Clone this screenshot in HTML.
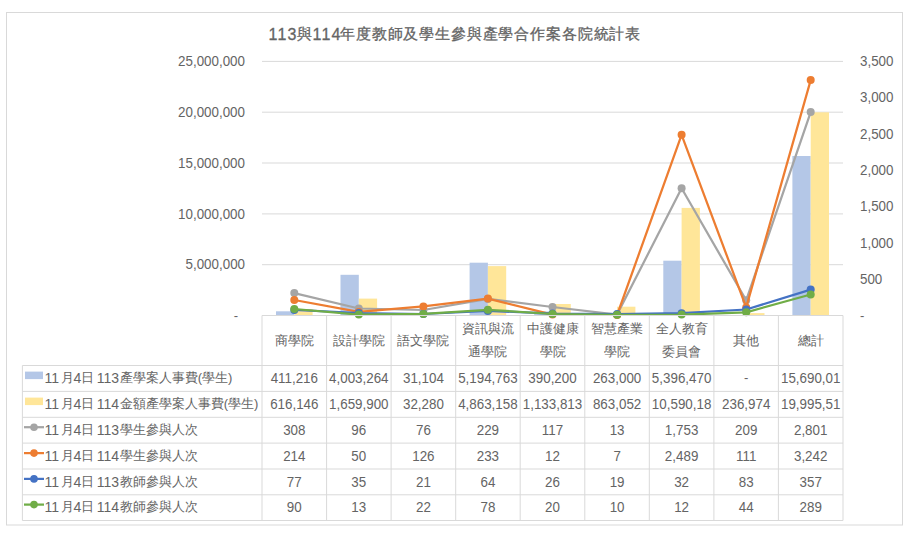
<!DOCTYPE html>
<html><head><meta charset="utf-8"><style>
html,body{margin:0;padding:0;background:#fff;width:911px;height:535px;overflow:hidden}
svg text{font-family:"Liberation Sans",sans-serif}
</style></head><body>
<svg width="911" height="535" viewBox="0 0 911 535" style="display:block"><rect x="6.5" y="12.5" width="896" height="512.5" fill="#fff" stroke="#d9d9d9" stroke-width="1"/><g fill="#646464"><text x="268.5" y="40.2" font-size="16" letter-spacing="1.2" stroke="#646464" stroke-width="0.3">113</text><text x="297" y="39.1" font-size="14.5" stroke="#646464" stroke-width="0.3">與</text><text x="312.6" y="40.2" font-size="16" letter-spacing="1.2" stroke="#646464" stroke-width="0.3">114</text><text x="340" y="39.1" font-size="14.5" letter-spacing="0.85" stroke="#646464" stroke-width="0.3">年度教師及學生參與產學合作案各院統計表</text><line x1="262.0" x2="843.0" y1="264.7" y2="264.7" stroke="#d9d9d9" stroke-width="1"/><line x1="262.0" x2="843.0" y1="213.9" y2="213.9" stroke="#d9d9d9" stroke-width="1"/><line x1="262.0" x2="843.0" y1="163.0" y2="163.0" stroke="#d9d9d9" stroke-width="1"/><line x1="262.0" x2="843.0" y1="112.2" y2="112.2" stroke="#d9d9d9" stroke-width="1"/><line x1="262.0" x2="843.0" y1="61.4" y2="61.4" stroke="#d9d9d9" stroke-width="1"/><text x="238" y="319.5" text-anchor="end" font-size="13">-</text><text transform="translate(245.0,269.3) scale(1.03,1.18)" text-anchor="end" font-size="13">5,000,000</text><text transform="translate(245.0,218.5) scale(1.03,1.18)" text-anchor="end" font-size="13">10,000,000</text><text transform="translate(245.0,167.6) scale(1.03,1.18)" text-anchor="end" font-size="13">15,000,000</text><text transform="translate(245.0,116.8) scale(1.03,1.18)" text-anchor="end" font-size="13">20,000,000</text><text transform="translate(245.0,66.0) scale(1.03,1.18)" text-anchor="end" font-size="13">25,000,000</text><text x="860" y="319.5" font-size="13">-</text><text transform="translate(860.0,283.8) scale(1.03,1.18)" text-anchor="start" font-size="13">500</text><text transform="translate(860.0,247.5) scale(1.03,1.18)" text-anchor="start" font-size="13">1,000</text><text transform="translate(860.0,211.2) scale(1.03,1.18)" text-anchor="start" font-size="13">1,500</text><text transform="translate(860.0,174.9) scale(1.03,1.18)" text-anchor="start" font-size="13">2,000</text><text transform="translate(860.0,138.6) scale(1.03,1.18)" text-anchor="start" font-size="13">2,500</text><text transform="translate(860.0,102.3) scale(1.03,1.18)" text-anchor="start" font-size="13">3,000</text><text transform="translate(860.0,66.0) scale(1.03,1.18)" text-anchor="start" font-size="13">3,500</text></g><rect x="276.0" y="311.3" width="18.3" height="4.2" fill="#b4c7e7"/><rect x="294.3" y="309.2" width="18.3" height="6.3" fill="#ffe699"/><rect x="340.5" y="274.8" width="18.3" height="40.7" fill="#b4c7e7"/><rect x="358.8" y="298.6" width="18.3" height="16.9" fill="#ffe699"/><rect x="405.1" y="315.2" width="18.3" height="0.3" fill="#b4c7e7"/><rect x="423.4" y="315.2" width="18.3" height="0.3" fill="#ffe699"/><rect x="469.6" y="262.7" width="18.3" height="52.8" fill="#b4c7e7"/><rect x="487.9" y="266.1" width="18.3" height="49.4" fill="#ffe699"/><rect x="534.2" y="311.5" width="18.3" height="4.0" fill="#b4c7e7"/><rect x="552.5" y="304.0" width="18.3" height="11.5" fill="#ffe699"/><rect x="598.8" y="312.8" width="18.3" height="2.7" fill="#b4c7e7"/><rect x="617.1" y="306.7" width="18.3" height="8.8" fill="#ffe699"/><rect x="663.3" y="260.7" width="18.3" height="54.8" fill="#b4c7e7"/><rect x="681.6" y="207.9" width="18.3" height="107.6" fill="#ffe699"/><rect x="746.2" y="313.1" width="18.3" height="2.4" fill="#ffe699"/><rect x="792.4" y="156.0" width="18.3" height="159.5" fill="#b4c7e7"/><rect x="810.7" y="112.3" width="18.3" height="203.2" fill="#ffe699"/><polyline points="294.3,293.1 358.8,308.5 423.4,310.0 487.9,298.9 552.5,307.0 617.1,314.6 681.6,188.2 746.2,300.3 810.7,112.1" fill="none" stroke="#a5a5a5" stroke-width="2.25" stroke-linejoin="round"/><circle cx="294.3" cy="293.1" r="4" fill="#a5a5a5"/><circle cx="358.8" cy="308.5" r="4" fill="#a5a5a5"/><circle cx="423.4" cy="310.0" r="4" fill="#a5a5a5"/><circle cx="487.9" cy="298.9" r="4" fill="#a5a5a5"/><circle cx="552.5" cy="307.0" r="4" fill="#a5a5a5"/><circle cx="617.1" cy="314.6" r="4" fill="#a5a5a5"/><circle cx="681.6" cy="188.2" r="4" fill="#a5a5a5"/><circle cx="746.2" cy="300.3" r="4" fill="#a5a5a5"/><circle cx="810.7" cy="112.1" r="4" fill="#a5a5a5"/><polyline points="294.3,300.0 358.8,311.9 423.4,306.4 487.9,298.6 552.5,314.6 617.1,315.0 681.6,134.8 746.2,307.4 810.7,80.1" fill="none" stroke="#ed7d31" stroke-width="2.25" stroke-linejoin="round"/><circle cx="294.3" cy="300.0" r="4" fill="#ed7d31"/><circle cx="358.8" cy="311.9" r="4" fill="#ed7d31"/><circle cx="423.4" cy="306.4" r="4" fill="#ed7d31"/><circle cx="487.9" cy="298.6" r="4" fill="#ed7d31"/><circle cx="552.5" cy="314.6" r="4" fill="#ed7d31"/><circle cx="617.1" cy="315.0" r="4" fill="#ed7d31"/><circle cx="681.6" cy="134.8" r="4" fill="#ed7d31"/><circle cx="746.2" cy="307.4" r="4" fill="#ed7d31"/><circle cx="810.7" cy="80.1" r="4" fill="#ed7d31"/><polyline points="294.3,309.9 358.8,313.0 423.4,314.0 487.9,310.9 552.5,313.6 617.1,314.1 681.6,313.2 746.2,309.5 810.7,289.6" fill="none" stroke="#4472c4" stroke-width="2.25" stroke-linejoin="round"/><circle cx="294.3" cy="309.9" r="4" fill="#4472c4"/><circle cx="358.8" cy="313.0" r="4" fill="#4472c4"/><circle cx="423.4" cy="314.0" r="4" fill="#4472c4"/><circle cx="487.9" cy="310.9" r="4" fill="#4472c4"/><circle cx="552.5" cy="313.6" r="4" fill="#4472c4"/><circle cx="617.1" cy="314.1" r="4" fill="#4472c4"/><circle cx="681.6" cy="313.2" r="4" fill="#4472c4"/><circle cx="746.2" cy="309.5" r="4" fill="#4472c4"/><circle cx="810.7" cy="289.6" r="4" fill="#4472c4"/><polyline points="294.3,309.0 358.8,314.6 423.4,313.9 487.9,309.8 552.5,314.0 617.1,314.8 681.6,314.6 746.2,312.3 810.7,294.5" fill="none" stroke="#70ad47" stroke-width="2.25" stroke-linejoin="round"/><circle cx="294.3" cy="309.0" r="4" fill="#70ad47"/><circle cx="358.8" cy="314.6" r="4" fill="#70ad47"/><circle cx="423.4" cy="313.9" r="4" fill="#70ad47"/><circle cx="487.9" cy="309.8" r="4" fill="#70ad47"/><circle cx="552.5" cy="314.0" r="4" fill="#70ad47"/><circle cx="617.1" cy="314.8" r="4" fill="#70ad47"/><circle cx="681.6" cy="314.6" r="4" fill="#70ad47"/><circle cx="746.2" cy="312.3" r="4" fill="#70ad47"/><circle cx="810.7" cy="294.5" r="4" fill="#70ad47"/><line x1="262.0" x2="843.0" y1="315.5" y2="315.5" stroke="#d9d9d9" stroke-width="1"/><line x1="22.4" x2="843.0" y1="365.5" y2="365.5" stroke="#d9d9d9" stroke-width="1"/><line x1="22.4" x2="843.0" y1="391.4" y2="391.4" stroke="#d9d9d9" stroke-width="1"/><line x1="22.4" x2="843.0" y1="417.3" y2="417.3" stroke="#d9d9d9" stroke-width="1"/><line x1="22.4" x2="843.0" y1="443.1" y2="443.1" stroke="#d9d9d9" stroke-width="1"/><line x1="22.4" x2="843.0" y1="469.0" y2="469.0" stroke="#d9d9d9" stroke-width="1"/><line x1="22.4" x2="843.0" y1="494.8" y2="494.8" stroke="#d9d9d9" stroke-width="1"/><line x1="22.4" x2="843.0" y1="520.5" y2="520.5" stroke="#d9d9d9" stroke-width="1"/><line x1="262.0" x2="262.0" y1="315.5" y2="520.5" stroke="#d9d9d9" stroke-width="1"/><line x1="326.6" x2="326.6" y1="315.5" y2="520.5" stroke="#d9d9d9" stroke-width="1"/><line x1="391.1" x2="391.1" y1="315.5" y2="520.5" stroke="#d9d9d9" stroke-width="1"/><line x1="455.7" x2="455.7" y1="315.5" y2="520.5" stroke="#d9d9d9" stroke-width="1"/><line x1="520.2" x2="520.2" y1="315.5" y2="520.5" stroke="#d9d9d9" stroke-width="1"/><line x1="584.8" x2="584.8" y1="315.5" y2="520.5" stroke="#d9d9d9" stroke-width="1"/><line x1="649.3" x2="649.3" y1="315.5" y2="520.5" stroke="#d9d9d9" stroke-width="1"/><line x1="713.9" x2="713.9" y1="315.5" y2="520.5" stroke="#d9d9d9" stroke-width="1"/><line x1="778.4" x2="778.4" y1="315.5" y2="520.5" stroke="#d9d9d9" stroke-width="1"/><line x1="843.0" x2="843.0" y1="315.5" y2="520.5" stroke="#d9d9d9" stroke-width="1"/><line x1="22.4" x2="22.4" y1="365.5" y2="520.5" stroke="#d9d9d9" stroke-width="1"/><g fill="#646464" font-size="13"><text x="294.3" y="345" text-anchor="middle">商學院</text><text x="358.8" y="345" text-anchor="middle">設計學院</text><text x="423.4" y="345" text-anchor="middle">語文學院</text><text x="487.9" y="333" text-anchor="middle">資訊與流</text><text x="487.9" y="355.5" text-anchor="middle">通學院</text><text x="552.5" y="333" text-anchor="middle">中護健康</text><text x="552.5" y="355.5" text-anchor="middle">學院</text><text x="617.1" y="333" text-anchor="middle">智慧產業</text><text x="617.1" y="355.5" text-anchor="middle">學院</text><text x="681.6" y="333" text-anchor="middle">全人教育</text><text x="681.6" y="355.5" text-anchor="middle">委員會</text><text x="746.2" y="345" text-anchor="middle">其他</text><text x="810.7" y="345" text-anchor="middle">總計</text><text transform="translate(294.3,383.1) scale(1.03,1.18)" text-anchor="middle" font-size="13">411,216</text><text transform="translate(358.8,383.1) scale(1.03,1.18)" text-anchor="middle" font-size="13">4,003,264</text><text transform="translate(423.4,383.1) scale(1.03,1.18)" text-anchor="middle" font-size="13">31,104</text><text transform="translate(487.9,383.1) scale(1.03,1.18)" text-anchor="middle" font-size="13">5,194,763</text><text transform="translate(552.5,383.1) scale(1.03,1.18)" text-anchor="middle" font-size="13">390,200</text><text transform="translate(617.1,383.1) scale(1.03,1.18)" text-anchor="middle" font-size="13">263,000</text><text transform="translate(681.6,383.1) scale(1.03,1.18)" text-anchor="middle" font-size="13">5,396,470</text><text x="746.2" y="382.4" text-anchor="middle">-</text><text transform="translate(810.7,383.1) scale(1.03,1.18)" text-anchor="middle" font-size="13">15,690,01</text><rect x="25" y="371.6" width="18" height="7.5" fill="#b4c7e7"/><text transform="translate(44.5,383.1) scale(1.08,1.18)" text-anchor="start" font-size="13">11</text><text x="60.6" y="382.2">月</text><text transform="translate(73.4,383.1) scale(1.08,1.18)" text-anchor="start" font-size="13">4</text><text x="80.6" y="382.2">日</text><text transform="translate(96.7,383.1) scale(1.08,1.18)" text-anchor="start" font-size="13">113</text><text x="119.7" y="382.2">產學案人事費(學生)</text><text transform="translate(294.3,409.0) scale(1.03,1.18)" text-anchor="middle" font-size="13">616,146</text><text transform="translate(358.8,409.0) scale(1.03,1.18)" text-anchor="middle" font-size="13">1,659,900</text><text transform="translate(423.4,409.0) scale(1.03,1.18)" text-anchor="middle" font-size="13">32,280</text><text transform="translate(487.9,409.0) scale(1.03,1.18)" text-anchor="middle" font-size="13">4,863,158</text><text transform="translate(552.5,409.0) scale(1.03,1.18)" text-anchor="middle" font-size="13">1,133,813</text><text transform="translate(617.1,409.0) scale(1.03,1.18)" text-anchor="middle" font-size="13">863,052</text><text transform="translate(681.6,409.0) scale(1.03,1.18)" text-anchor="middle" font-size="13">10,590,18</text><text transform="translate(746.2,409.0) scale(1.03,1.18)" text-anchor="middle" font-size="13">236,974</text><text transform="translate(810.7,409.0) scale(1.03,1.18)" text-anchor="middle" font-size="13">19,995,51</text><rect x="25" y="397.6" width="18" height="7.5" fill="#ffe699"/><text transform="translate(44.5,409.0) scale(1.08,1.18)" text-anchor="start" font-size="13">11</text><text x="60.6" y="408.2">月</text><text transform="translate(73.4,409.0) scale(1.08,1.18)" text-anchor="start" font-size="13">4</text><text x="80.6" y="408.2">日</text><text transform="translate(96.7,409.0) scale(1.08,1.18)" text-anchor="start" font-size="13">114</text><text x="119.7" y="408.2">金額產學案人事費(學生)</text><text transform="translate(294.3,434.8) scale(1.03,1.18)" text-anchor="middle" font-size="13">308</text><text transform="translate(358.8,434.8) scale(1.03,1.18)" text-anchor="middle" font-size="13">96</text><text transform="translate(423.4,434.8) scale(1.03,1.18)" text-anchor="middle" font-size="13">76</text><text transform="translate(487.9,434.8) scale(1.03,1.18)" text-anchor="middle" font-size="13">229</text><text transform="translate(552.5,434.8) scale(1.03,1.18)" text-anchor="middle" font-size="13">117</text><text transform="translate(617.1,434.8) scale(1.03,1.18)" text-anchor="middle" font-size="13">13</text><text transform="translate(681.6,434.8) scale(1.03,1.18)" text-anchor="middle" font-size="13">1,753</text><text transform="translate(746.2,434.8) scale(1.03,1.18)" text-anchor="middle" font-size="13">209</text><text transform="translate(810.7,434.8) scale(1.03,1.18)" text-anchor="middle" font-size="13">2,801</text><line x1="24" x2="44" y1="427.2" y2="427.2" stroke="#a5a5a5" stroke-width="2.25"/><circle cx="34" cy="427.2" r="3.8" fill="#a5a5a5"/><text transform="translate(44.5,434.8) scale(1.08,1.18)" text-anchor="start" font-size="13">11</text><text x="60.6" y="434.0">月</text><text transform="translate(73.4,434.8) scale(1.08,1.18)" text-anchor="start" font-size="13">4</text><text x="80.6" y="434.0">日</text><text transform="translate(96.7,434.8) scale(1.08,1.18)" text-anchor="start" font-size="13">113</text><text x="119.7" y="434.0">學生參與人次</text><text transform="translate(294.3,460.7) scale(1.03,1.18)" text-anchor="middle" font-size="13">214</text><text transform="translate(358.8,460.7) scale(1.03,1.18)" text-anchor="middle" font-size="13">50</text><text transform="translate(423.4,460.7) scale(1.03,1.18)" text-anchor="middle" font-size="13">126</text><text transform="translate(487.9,460.7) scale(1.03,1.18)" text-anchor="middle" font-size="13">233</text><text transform="translate(552.5,460.7) scale(1.03,1.18)" text-anchor="middle" font-size="13">12</text><text transform="translate(617.1,460.7) scale(1.03,1.18)" text-anchor="middle" font-size="13">7</text><text transform="translate(681.6,460.7) scale(1.03,1.18)" text-anchor="middle" font-size="13">2,489</text><text transform="translate(746.2,460.7) scale(1.03,1.18)" text-anchor="middle" font-size="13">111</text><text transform="translate(810.7,460.7) scale(1.03,1.18)" text-anchor="middle" font-size="13">3,242</text><line x1="24" x2="44" y1="453.1" y2="453.1" stroke="#ed7d31" stroke-width="2.25"/><circle cx="34" cy="453.1" r="3.8" fill="#ed7d31"/><text transform="translate(44.5,460.7) scale(1.08,1.18)" text-anchor="start" font-size="13">11</text><text x="60.6" y="459.9">月</text><text transform="translate(73.4,460.7) scale(1.08,1.18)" text-anchor="start" font-size="13">4</text><text x="80.6" y="459.9">日</text><text transform="translate(96.7,460.7) scale(1.08,1.18)" text-anchor="start" font-size="13">114</text><text x="119.7" y="459.9">學生參與人次</text><text transform="translate(294.3,486.5) scale(1.03,1.18)" text-anchor="middle" font-size="13">77</text><text transform="translate(358.8,486.5) scale(1.03,1.18)" text-anchor="middle" font-size="13">35</text><text transform="translate(423.4,486.5) scale(1.03,1.18)" text-anchor="middle" font-size="13">21</text><text transform="translate(487.9,486.5) scale(1.03,1.18)" text-anchor="middle" font-size="13">64</text><text transform="translate(552.5,486.5) scale(1.03,1.18)" text-anchor="middle" font-size="13">26</text><text transform="translate(617.1,486.5) scale(1.03,1.18)" text-anchor="middle" font-size="13">19</text><text transform="translate(681.6,486.5) scale(1.03,1.18)" text-anchor="middle" font-size="13">32</text><text transform="translate(746.2,486.5) scale(1.03,1.18)" text-anchor="middle" font-size="13">83</text><text transform="translate(810.7,486.5) scale(1.03,1.18)" text-anchor="middle" font-size="13">357</text><line x1="24" x2="44" y1="478.9" y2="478.9" stroke="#4472c4" stroke-width="2.25"/><circle cx="34" cy="478.9" r="3.8" fill="#4472c4"/><text transform="translate(44.5,486.5) scale(1.08,1.18)" text-anchor="start" font-size="13">11</text><text x="60.6" y="485.7">月</text><text transform="translate(73.4,486.5) scale(1.08,1.18)" text-anchor="start" font-size="13">4</text><text x="80.6" y="485.7">日</text><text transform="translate(96.7,486.5) scale(1.08,1.18)" text-anchor="start" font-size="13">113</text><text x="119.7" y="485.7">教師參與人次</text><text transform="translate(294.3,512.2) scale(1.03,1.18)" text-anchor="middle" font-size="13">90</text><text transform="translate(358.8,512.2) scale(1.03,1.18)" text-anchor="middle" font-size="13">13</text><text transform="translate(423.4,512.2) scale(1.03,1.18)" text-anchor="middle" font-size="13">22</text><text transform="translate(487.9,512.2) scale(1.03,1.18)" text-anchor="middle" font-size="13">78</text><text transform="translate(552.5,512.2) scale(1.03,1.18)" text-anchor="middle" font-size="13">20</text><text transform="translate(617.1,512.2) scale(1.03,1.18)" text-anchor="middle" font-size="13">10</text><text transform="translate(681.6,512.2) scale(1.03,1.18)" text-anchor="middle" font-size="13">12</text><text transform="translate(746.2,512.2) scale(1.03,1.18)" text-anchor="middle" font-size="13">44</text><text transform="translate(810.7,512.2) scale(1.03,1.18)" text-anchor="middle" font-size="13">289</text><line x1="24" x2="44" y1="504.6" y2="504.6" stroke="#70ad47" stroke-width="2.25"/><circle cx="34" cy="504.6" r="3.8" fill="#70ad47"/><text transform="translate(44.5,512.2) scale(1.08,1.18)" text-anchor="start" font-size="13">11</text><text x="60.6" y="511.4">月</text><text transform="translate(73.4,512.2) scale(1.08,1.18)" text-anchor="start" font-size="13">4</text><text x="80.6" y="511.4">日</text><text transform="translate(96.7,512.2) scale(1.08,1.18)" text-anchor="start" font-size="13">114</text><text x="119.7" y="511.4">教師參與人次</text></g></svg>
</body></html>
